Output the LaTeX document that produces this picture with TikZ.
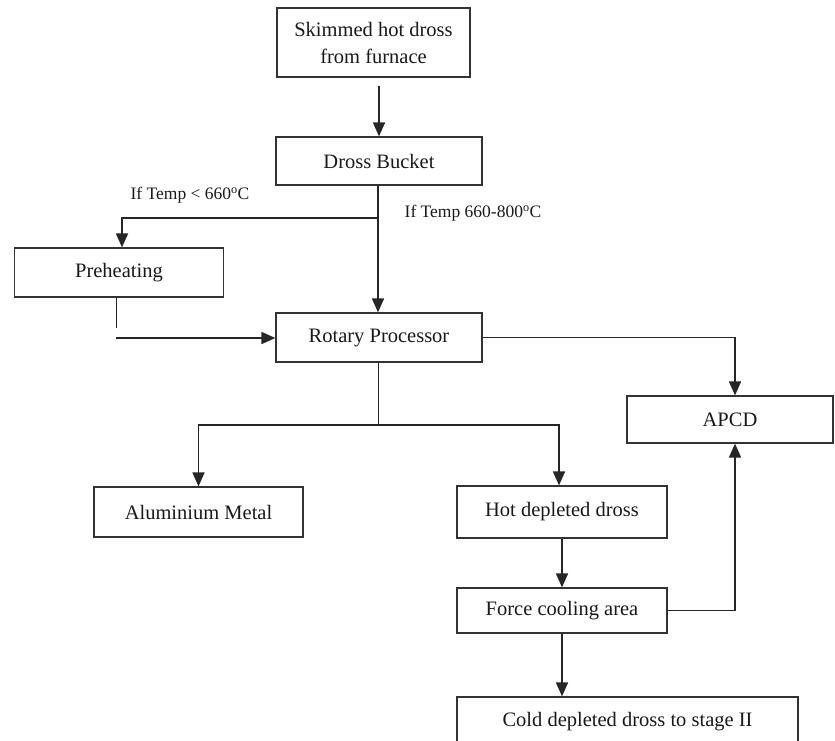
\documentclass[tikz,border=0pt]{standalone}
\usepackage{fontspec}
\setmainfont{Liberation Serif}
\usetikzlibrary{arrows.meta, calc}

\begin{document}
\begin{tikzpicture}[x=1pt, y=-1pt,
  box/.style={draw=black!80, line width=1.2pt, inner sep=2pt, align=center,
    text=black!90, font=\fontsize{20.5}{27}\selectfont},
  arr/.style={draw=black!85, line width=1.7pt,
    -{Triangle[length=14pt, width=12pt]}},
  link/.style={draw=black!85, line width=1.7pt},
  lbl/.style={text=black!90, font=\fontsize{17.5}{20}\selectfont}]
  \useasboundingbox (0,0) rectangle (835,740);
  % boxes, placed by centre (pixel grid of the reference)
  \node[box, minimum width=193pt, minimum height=69pt] (skim) at (373.5,42.5)
    {Skimmed hot dross\\from furnace};
  \node[box, minimum width=206pt, minimum height=48pt] (bucket) at (379,161) {Dross Bucket};
  \node[box, minimum width=209pt, minimum height=49pt] (pre) at (119,272.5) {Preheating};
  \node[box, minimum width=206pt, minimum height=49pt] (rot) at (379,337.5) {Rotary Processor};
  \node[box, minimum width=206pt, minimum height=47pt] (apcd) at (730,419.5) {APCD};
  \node[box, minimum width=209pt, minimum height=50pt] (alum) at (198.5,512) {Aluminium Metal};
  \node[box, minimum width=210pt, minimum height=52pt] (hot) at (562,512) {Hot depleted dross};
  \node[box, minimum width=210pt, minimum height=45pt] (force) at (562,610.5) {Force cooling area};
  \node[box, minimum width=341pt, minimum height=50pt] (cold) at (627.5,722) {Cold depleted dross to stage II};
  % temperature branches
  \node[lbl] (low) at (190,195) {If Temp < 660\textsuperscript{o}C};
  \node[lbl] (mid) at (473,213) {If Temp 660-800\textsuperscript{o}C};
  \coordinate (split) at (378,218);
  \coordinate (preEnd) at (116,328);
  \coordinate (preIn) at (116,338);
  \coordinate (fork) at (378,425);
  % connectors
  \draw[arr] ([yshift=-8pt]skim.south -| bucket.north) -- (bucket.north);
  \draw[arr] (bucket.south -| split) -- (rot.north -| split);
  \draw[arr] (split) -| ([xshift=3pt]pre.north);
  \draw[link, line width=1pt] (pre.south -| preEnd) -- (preEnd);
  \draw[arr] (preIn) -- (rot.west |- preIn);
  \draw[arr] (rot.east) -| ([xshift=5pt]apcd.north);
  \draw[link, line width=1pt] (rot.south -| fork) -- (fork);
  \draw[arr] (fork) -| (alum.north);
  \draw[arr] (fork) -| ([xshift=-3pt]hot.north);
  \draw[arr] (hot.south) -- (force.north);
  \draw[arr] (force.east) -| ([xshift=5pt]apcd.south);
  \draw[arr] (force.south) -- (cold.north -| force.south);
\end{tikzpicture}
\end{document}
